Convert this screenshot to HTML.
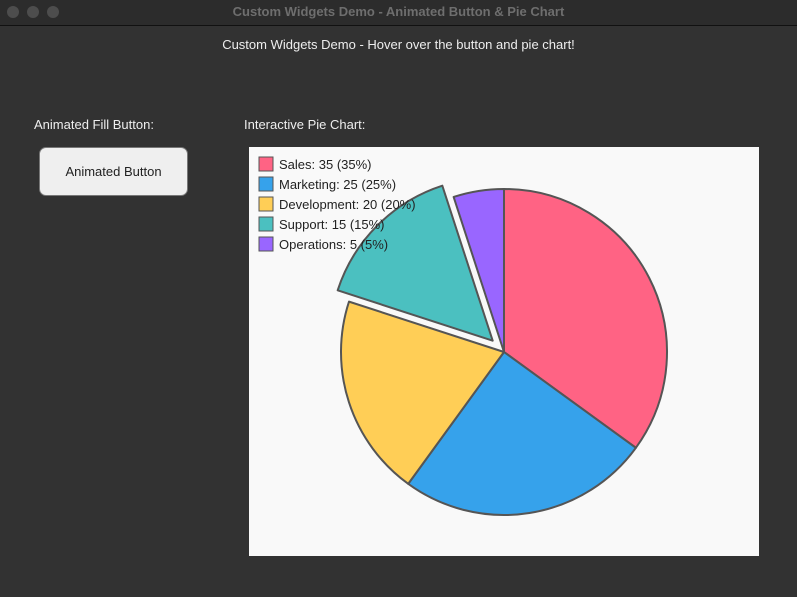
<!DOCTYPE html>
<html><head><meta charset="utf-8"><style>
body{margin:0;width:797px;height:597px;background:#323232;font-family:"Liberation Sans",sans-serif;overflow:hidden;position:relative}
.tb{position:absolute;left:0;top:0;width:797px;height:25px;background:#2c2c2c;border-bottom:1px solid #111}
.dot{position:absolute;top:6px;width:12px;height:12px;border-radius:50%;background:#4d4d4d}
.t{position:absolute;color:#eee;font-size:13px;white-space:nowrap}
</style></head><body>
<div class="tb">
<div class="dot" style="left:7px"></div>
<div class="dot" style="left:27px"></div>
<div class="dot" style="left:47px"></div>
<div class="t" style="left:0;width:797px;text-align:center;top:4px;color:#6e6e6e;font-weight:bold">Custom Widgets Demo - Animated Button &amp; Pie Chart</div>
</div>
<div class="t" style="left:0;width:797px;text-align:center;top:37px">Custom Widgets Demo - Hover over the button and pie chart!</div>
<div class="t" style="left:34px;top:117px">Animated Fill Button:</div>
<div class="t" style="left:244px;top:117px">Interactive Pie Chart:</div>
<div style="position:absolute;left:39px;top:147px;width:149px;height:49px;background:#efefef;border:1px solid #777;border-radius:7px;box-sizing:border-box;color:#222;font-size:13px;text-align:center;line-height:47px">Animated Button</div>
<svg style="position:absolute;left:249px;top:147px" width="510" height="409">
<rect width="510" height="409" fill="#f9f9f9"/>
<g id="pie"></g><g id="legend"></g>
</svg>
<script>
const categories=["Sales","Marketing","Development","Support","Operations"];
const values=[35,25,20,15,5];
const colors=["#ff6384","#36a2eb","#ffce56","#4bc0c0","#9966ff"];
const exploded=[false,false,false,true,false];
const NS="http://www.w3.org/2000/svg";
const cx=255,cy=205,r=163,explode=16;
const total=values.reduce((a,b)=>a+b,0);
const lg=document.getElementById('legend'),pg=document.getElementById('pie');
categories.forEach((c,i)=>{
 const b=document.createElementNS(NS,'rect');
 b.setAttribute('x',10);b.setAttribute('y',10+i*20);b.setAttribute('width',14);b.setAttribute('height',14);
 b.setAttribute('fill',colors[i]);b.setAttribute('stroke','#555');
 
 
 lg.appendChild(b);
 const t=document.createElementNS(NS,'text');
 t.setAttribute('x',30);t.setAttribute('y',22+i*20);t.setAttribute('font-size',13);t.setAttribute('fill','#222');
 t.textContent=c+": "+values[i]+" ("+Math.round(values[i]/total*100)+"%)";
 
 
 lg.appendChild(t);
});
let acc=0;
values.forEach((v,i)=>{
 const a0=acc/total*2*Math.PI;acc+=v;const a1=acc/total*2*Math.PI;
 const am=(a0+a1)/2;let ox=0,oy=0;
 if(exploded[i]){ox=explode*Math.sin(am);oy=-explode*Math.cos(am);}
 const x=cx+ox,y=cy+oy;
 const p0=[x+r*Math.sin(a0),y-r*Math.cos(a0)],p1=[x+r*Math.sin(a1),y-r*Math.cos(a1)];
 const large=(a1-a0)>Math.PI?1:0;
 const p=document.createElementNS(NS,'path');
 p.setAttribute('d',`M${x},${y}L${p0[0]},${p0[1]}A${r},${r} 0 ${large} 1 ${p1[0]},${p1[1]}Z`);
 p.setAttribute('fill',colors[i]);p.setAttribute('stroke','#555');p.setAttribute('stroke-width',2);p.setAttribute('stroke-linejoin','round');
 
 
 pg.appendChild(p);
});
</script>
</body></html>
